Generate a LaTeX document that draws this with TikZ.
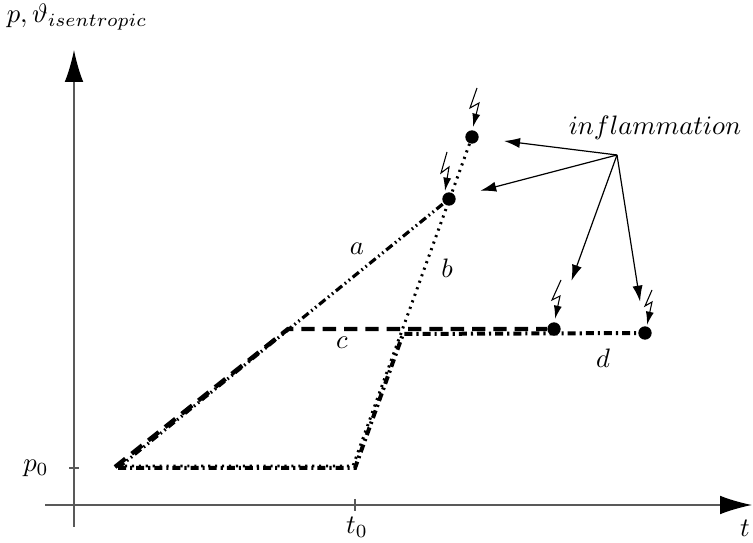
\documentclass[tikz,border=0pt]{standalone}
\usetikzlibrary{arrows.meta}
\begin{document}
\begin{tikzpicture}[x=0.375pt,y=-0.375pt,
  axis/.style={black!65, line width=0.5pt},
  axtip/.style={-{Latex[length=12pt,width=7pt,color=black]}},
  tick/.style={black!65, line width=0.5pt},
  curvea/.style={line width=1.2pt, dash pattern=on 3pt off 1.3pt on 0.6pt off 1.3pt on 0.6pt off 1.3pt},
  curveb/.style={line width=1.1pt, dash pattern=on 0.8pt off 1.8pt},
  curvec/.style={line width=1.6pt, dash pattern=on 5pt off 3pt},
  curved/.style={line width=1.5pt, dash pattern=on 3pt off 1.5pt on 0.8pt off 1.5pt},
  dot/.style={circle, fill, inner sep=0pt, minimum size=5pt},
  flash/.style={line width=0.4pt, -{Latex[length=5pt,width=3pt]}},
  infl/.style={line width=0.45pt, -{Latex[length=6pt,width=3.8pt]}},
  lbl/.style={inner sep=0pt}]
\useasboundingbox (0,0) rectangle (753,543);
% axes
\coordinate (xs) at (45,505);
\coordinate (xe) at (752,505);
\coordinate (ys) at (74,527);
\coordinate (ye) at (74,50);
\draw[axis,axtip] (xs) -- (xe);
\draw[axis,axtip] (ys) -- (ye);
\coordinate (p0a) at (69,468); \coordinate (p0b) at (79,468);
\coordinate (t0a) at (355,499); \coordinate (t0b) at (355,511);
\draw[tick] (p0a) -- (p0b);
\draw[tick] (t0a) -- (t0b);
\node[lbl] (ylab) at (77,17) {$p,\vartheta_{isentropic}$};
\node[lbl] (xlab) at (745,528) {$t$};
\node[lbl] (p0) at (36,468) {$p_0$};
\node[lbl] (t0) at (357,527) {$t_0$};
% dots
\node[dot] (d1) at (472,137) {};
\node[dot] (d2) at (449,199) {};
\node[dot] (d3) at (554,329) {};
\node[dot] (d4) at (645,333) {};
% path corners
\coordinate (s0) at (118,468);
\coordinate (sb) at (118,466);
\coordinate (sc) at (115,467);
\coordinate (kb) at (353,466);
\coordinate (kd) at (355,468);
\coordinate (md) at (403,334);
\coordinate (kc) at (288,329);
% curves
\draw[curvec] (sc) -- (kc) -- (d3);
\draw[curvea] (s0) -- (d2);
\draw[curveb] (sb) -- (kb) -- (d1);
\draw[curved] (s0) -- (kd) -- (md) -- (d4);
% curve labels
\node[lbl] (la) at (357,249) {$a$};
\node[lbl] (lb) at (447,268) {$b$};
\node[lbl] (lc) at (342,343) {$c$};
\node[lbl] (ld) at (603,358) {$d$};
% lightnings
\draw[flash] (d1) ++(5,-49) -- ++(-7,20) -- ++(9,-5) -- ++(-6,24);
\draw[flash] (d2) ++(-2,-47) -- ++(-6,21) -- ++(8,-6) -- ++(-4,24);
\draw[flash] (d3) ++(7,-49) -- ++(-9,20) -- ++(8,-4) -- ++(-5,23);
\draw[flash] (d4) ++(7,-43) -- ++(-7,16) -- ++(7,-4) -- ++(-5,23);
% inflammation
\node[lbl] (inf) at (655,128) {$inflammation$};
\coordinate (hub) at (617,155);
\draw[infl, shorten >=9.4pt] (hub) -- (d1);
\draw[infl, shorten >=9.4pt] (hub) -- (d2);
\draw[infl, shorten >=16.5pt] (hub) -- (d3);
\draw[infl, shorten >=9.2pt] (hub) -- (d4);
\end{tikzpicture}
\end{document}
